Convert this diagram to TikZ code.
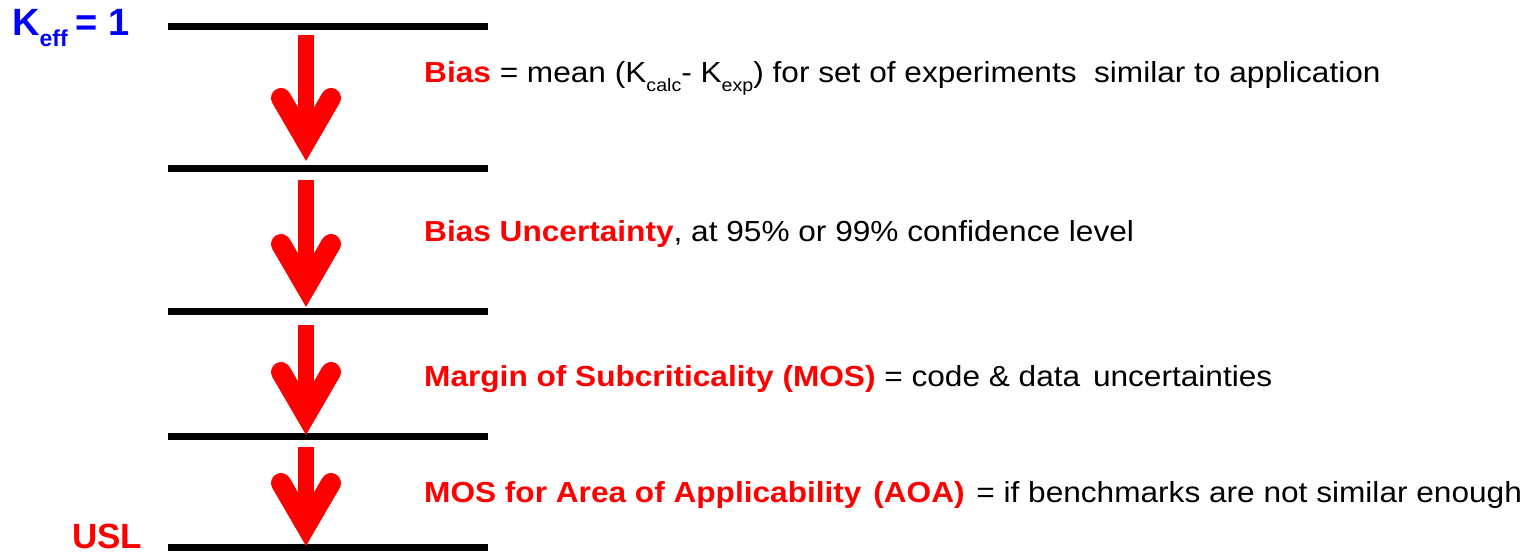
\documentclass[tikz,border=0pt]{standalone}
\usepackage{fontspec}
\setmainfont{Liberation Sans}
\newfontfamily\bodyfont[FakeStretch=1.09]{Liberation Sans}
\definecolor{myred}{RGB}{255,0,0}
\definecolor{myblue}{RGB}{0,0,255}
\newcommand{\lowsub}[1]{\raisebox{-0.3em}{\fontsize{18}{18}\selectfont #1}}
\begin{document}
\begin{tikzpicture}[x=1pt,y=-1pt,
  level/.style={line width=7pt,black},
  shaft/.style={line width=16pt,myred,line cap=butt},
  headstroke/.style={line width=20pt,myred,line cap=round,line join=miter},
  txt/.style={anchor=base west,inner sep=0pt,font=\bodyfont\fontsize{29}{31}\selectfont},
]
\useasboundingbox (0,0) rectangle (1534,553);
\fill[white] (0,0) rectangle (1534,553);
% levels
\foreach \n/\y in {1/27,2/169,3/312,4/436,5/547}{
  \coordinate (L\n) at (168,\y);
  \coordinate (R\n) at (488,\y);
  \draw[level] (L\n) -- (R\n);
}
% arrows
\foreach \n/\s/\t in {1/35/161,2/180/307,3/325/435,4/447/546}{
  \coordinate (top\n) at (306,\s);
  \coordinate (neck\n) at (306,\t-35);
  \coordinate (tip\n) at (306,\t-20);
  \coordinate (wl\n) at (281,\t-63);
  \coordinate (wr\n) at (331,\t-63);
  \draw[shaft] (top\n) -- (neck\n);
  \draw[headstroke] (wl\n) -- (tip\n) -- (wr\n);
}
% left labels
\node[anchor=base west,inner sep=0pt,text=myblue,font=\fontsize{38}{38}\selectfont\bfseries] (keff) at (12,36)
  {K\raisebox{-0.28em}{\fontsize{23}{23}\selectfont eff}\hspace{-3pt} = 1};
\node[anchor=base west,inner sep=0pt,text=myred,font=\fontsize{35}{35}\selectfont\bfseries] (usl) at (72,548) {USL};
% texts
\node[txt] (t1) at (424,83) {\textcolor{myred}{\bfseries Bias} = mean (K\lowsub{calc}- K\lowsub{exp}) for set of experiments\ \ similar to application};
\node[txt] (t2) at (424,242) {\textcolor{myred}{\bfseries Bias Uncertainty}, at 95\% or 99\% confidence level};
\node[txt] (t3) at (424,386) {\textcolor{myred}{\bfseries Margin of Subcriticality (MOS)} = code \& data\ \hspace{4pt}uncertainties};
\node[txt] (t4) at (424,502) {\textcolor{myred}{\bfseries MOS for Area of Applicability\ \hspace{3pt}(AOA)}\ \hspace{3pt}= if benchmarks are not similar enough};
\end{tikzpicture}
\end{document}
